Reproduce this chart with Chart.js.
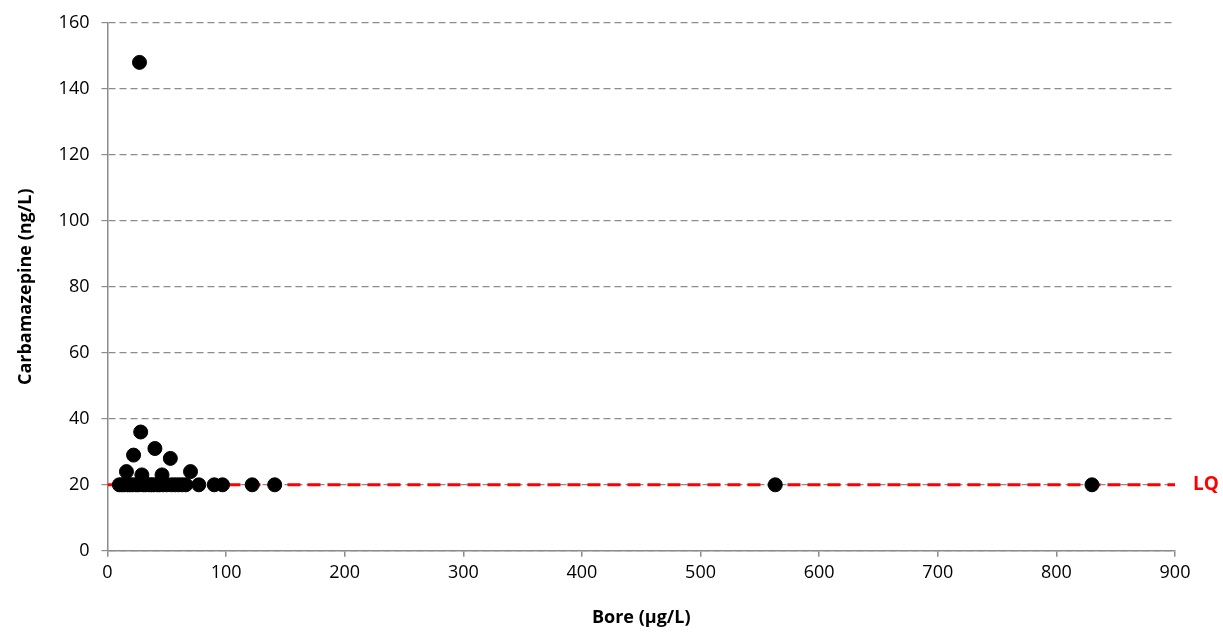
<!DOCTYPE html>
<html>
<head>
<meta charset="utf-8">
<script src="https://cdn.jsdelivr.net/npm/chart.js@4.4.0/dist/chart.umd.min.js"></script>
<style>
  html, body { margin: 0; padding: 0; background: #fff; }
  #wrap { width: 1223px; height: 637px; }
</style>
</head>
<body>
<div id="wrap"><canvas id="chart"></canvas></div>
<script>
// sample values
var bore = [27, 28, 40, 22, 53, 16, 29, 46, 70,
            10, 12, 14, 17, 19, 21, 24, 26, 30, 32, 35, 37, 39, 42, 44, 47, 50, 54, 57, 60, 63, 66,
            77, 90, 97, 122, 141, 563, 830];
var carbamazepine = [148, 36, 31, 29, 28, 24, 23, 23, 24,
                     20, 20, 20, 20, 20, 20, 20, 20, 20, 20, 20, 20, 20, 20, 20, 20, 20, 20, 20, 20, 20, 20,
                     20, 20, 20, 20, 20, 20, 20];

var lqX = [0, 900];
var lqY = [20, 20];
var yTicks = [0, 20, 40, 60, 80, 100, 120, 140, 160];

var punkte = [];
for (var i = 0; i < bore.length; i++) {
  punkte.push({ x: bore[i], y: carbamazepine[i] });
}
var lqLinie = [];
for (var j = 0; j < lqX.length; j++) {
  lqLinie.push({ x: lqX[j], y: lqY[j] });
}

var schrift = "'Open Sans', 'Noto Sans', sans-serif";

var lqText = {
  id: 'lqText',
  afterDraw: function (chart) {
    var ctx = chart.ctx;
    var y = chart.scales.y.getPixelForValue(20);
    ctx.save();
    ctx.fillStyle = '#ff0000';
    ctx.font = 'bold 19px ' + schrift;
    ctx.textBaseline = 'middle';
    ctx.fillText('LQ', chart.chartArea.right + 18, y);
    ctx.restore();
  }
};

new Chart(document.getElementById('chart'), {
  type: 'scatter',
  data: {
    datasets: [
      {
        type: 'line',
        data: lqLinie,
        borderColor: '#ff0000',
        borderWidth: 3,
        borderDash: [13, 7],
        pointRadius: 0,
        fill: false,
        order: 2
      },
      {
        data: punkte,
        backgroundColor: '#000',
        borderColor: '#000',
        pointRadius: 7,
        pointHoverRadius: 7,
        order: 1
      }
    ]
  },
  options: {
    responsive: true,
    maintainAspectRatio: false,
    animation: false,
    layout: { padding: { top: 22, right: 48, left: 11, bottom: 4 } },
    plugins: {
      legend: { display: false },
      tooltip: { enabled: false }
    },
    scales: {
      x: {
        type: 'linear',
        min: 0,
        max: 900,
        ticks: { stepSize: 100, color: '#000', font: { family: schrift, size: 18 }, padding: 5 },
        grid: { drawOnChartArea: false, drawTicks: true, tickLength: 6, color: '#8c8c8c', lineWidth: 1.5 },
        border: { color: '#8c8c8c', width: 1.5 },
        title: { display: true, text: 'Bore (µg/L)', color: '#000', font: { family: schrift, size: 18, weight: 'bold' }, padding: { top: 19 } }
      },
      y: {
        min: 0,
        max: 160,
        afterBuildTicks: function (axis) {
          axis.ticks = yTicks.map(function (v) { return { value: v }; });
        },
        ticks: { color: '#000', font: { family: schrift, size: 18 }, padding: 12 },
        grid: { color: '#8c8c8c', lineWidth: 1.2, tickBorderDash: [], tickLength: 6 },
        border: { color: '#8c8c8c', width: 1.5, dash: [7, 4] },
        title: { display: true, text: 'Carbamazepine (ng/L)', color: '#000', font: { family: schrift, size: 18, weight: 'bold' }, padding: { bottom: 10 } }
      }
    }
  },
  plugins: [lqText]
});
</script>
</body>
</html>
